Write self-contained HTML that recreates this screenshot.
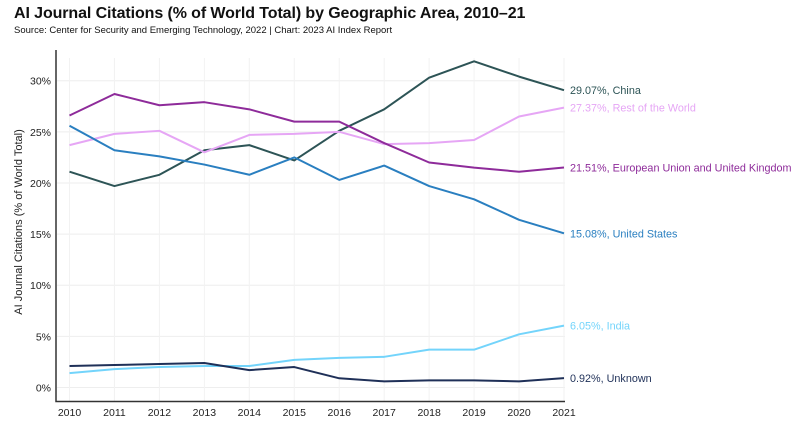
<!DOCTYPE html>
<html><head><meta charset="utf-8"><style>
body{margin:0;background:#fff;width:800px;height:423px;overflow:hidden;font-family:"Liberation Sans",sans-serif}
#title{position:absolute;left:14px;top:5px;font-size:16px;font-weight:bold;color:#111;margin:0;letter-spacing:-0.1px}
#sub{position:absolute;left:14px;top:25px;font-size:9.5px;color:#111}
svg{position:absolute;left:0;top:0}
</style></head><body>
<div id="title">AI Journal Citations (% of World Total) by Geographic Area, 2010–21</div>
<div id="sub">Source: Center for Security and Emerging Technology, 2022 | Chart: 2023 AI Index Report</div>
<svg id="chart" width="800" height="423"></svg>
<script>
const years=[2010,2011,2012,2013,2014,2015,2016,2017,2018,2019,2020,2021];
const yTicks=[0,5,10,15,20,25,30];
const china=[21.1,19.7,20.8,23.2,23.7,22.2,25.1,27.2,30.3,31.9,30.4,29.07];
const eu=[26.6,28.7,27.6,27.9,27.2,26.0,26.0,23.9,22.0,21.5,21.1,21.51];
const us=[25.6,23.2,22.6,21.8,20.8,22.5,20.3,21.7,19.7,18.4,16.4,15.08];
const row=[23.7,24.8,25.1,23.0,24.7,24.8,25.0,23.8,23.9,24.2,26.5,27.37];
const india=[1.4,1.8,2.0,2.1,2.1,2.7,2.9,3.0,3.7,3.7,5.2,6.05];
const unknown=[2.1,2.2,2.3,2.4,1.7,2.0,0.9,0.6,0.7,0.7,0.6,0.92];
const seriesNames=["China","Rest of the World","European Union and United Kingdom","United States","India","Unknown"];
const series=[china,row,eu,us,india,unknown];
const colors=["#2d5456","#e6a6f5","#8e2b9a","#2a7fc0","#73d4fb","#1f3058"];
const NS="http://www.w3.org/2000/svg";
const svg=document.getElementById('chart');
const x=i=>69.5+(564-69.5)*(years[i]-years[0])/(years[years.length-1]-years[0]);
const y=v=>387.5-v*(387.5-80.7)/30;
function el(t,a){const e=document.createElementNS(NS,t);for(const k in a)e.setAttribute(k,a[k]);svg.appendChild(e);return e;}
yTicks.forEach(t=>{
 const g=el('line',{x1:57,x2:565,y1:y(t),y2:y(t),stroke:'#eee','stroke-width':1});
 
 
 const l=el('text',{x:51,y:y(t)+4,'text-anchor':'end','font-size':10.5,fill:'#222'});
 l.textContent=t+'%';
 
 
});
years.forEach((yr,i)=>{
 const g=el('line',{x1:x(i),x2:x(i),y1:58,y2:401,stroke:'#f2f2f2','stroke-width':1});
 
 
 const l=el('text',{x:x(i),y:416,'text-anchor':'middle','font-size':10.5,fill:'#222'});
 l.textContent=yr;
 
 
});
const ax=el('path',{d:'M56,50V401.5H565',fill:'none',stroke:'#333','stroke-width':1.5});


const yt=el('text',{x:0,y:0,transform:'translate(22,222) rotate(-90)','text-anchor':'middle','font-size':11,fill:'#222'});
yt.textContent='AI Journal Citations (% of World Total)';


series.forEach((s,k)=>{
 const p=el('polyline',{points:s.map((v,i)=>x(i)+','+y(v)).join(' '),fill:'none',stroke:colors[k],'stroke-width':2,'stroke-linejoin':'round'});
 
 
 const last=s[s.length-1];
 const t=el('text',{x:570,y:y(last)+4,'font-size':10.8,fill:colors[k]});
 t.textContent=last.toFixed(2)+'%, '+seriesNames[k];
 
 
});
</script>
</body></html>
